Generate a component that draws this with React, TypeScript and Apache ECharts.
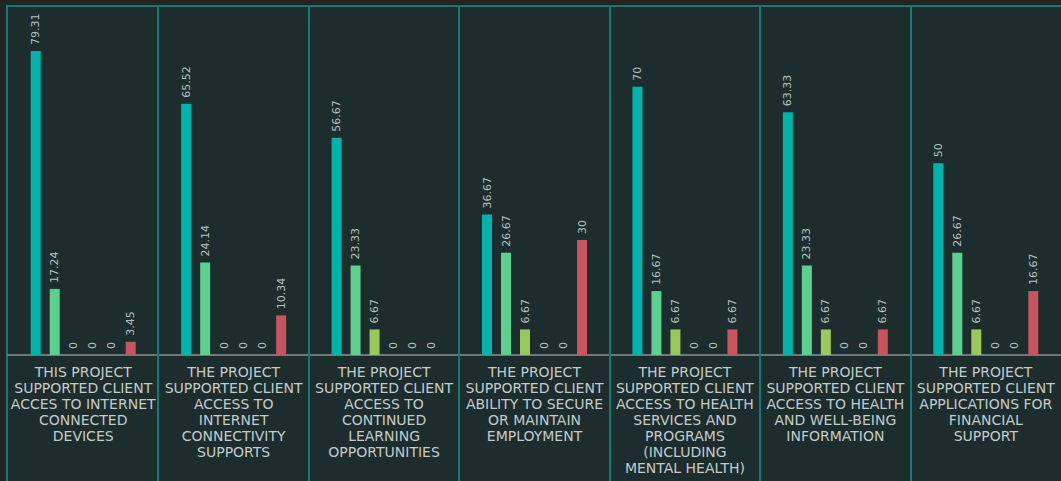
import React, { useEffect, useRef } from "react";
import * as echarts from "echarts";

const categories = [
  "THIS PROJECT\nSUPPORTED CLIENT\nACCES TO INTERNET\nCONNECTED\nDEVICES",
  "THE PROJECT\nSUPPORTED CLIENT\nACCESS TO\nINTERNET\nCONNECTIVITY\nSUPPORTS",
  "THE PROJECT\nSUPPORTED CLIENT\nACCESS TO\nCONTINUED\nLEARNING\nOPPORTUNITIES",
  "THE PROJECT\nSUPPORTED CLIENT\nABILITY TO SECURE\nOR MAINTAIN\nEMPLOYMENT",
  "THE PROJECT\nSUPPORTED CLIENT\nACCESS TO HEALTH\nSERVICES AND\nPROGRAMS\n(INCLUDING\nMENTAL HEALTH)",
  "THE PROJECT\nSUPPORTED CLIENT\nACCESS TO HEALTH\nAND WELL-BEING\nINFORMATION",
  "THE PROJECT\nSUPPORTED CLIENT\nAPPLICATIONS FOR\nFINANCIAL\nSUPPORT",
];

const seriesNames = ["Strongly Agree", "Agree", "Neutral", "Disagree", "Strongly Disagree", "Not Applicable"];
const seriesColors = ["#00b3aa", "#5cd08f", "#98c95a", "#e0a040", "#d07040", "#c8545e"];

const stronglyAgree = [79.31, 65.52, 56.67, 36.67, 70, 63.33, 50];
const agree = [17.24, 24.14, 23.33, 26.67, 16.67, 23.33, 26.67];
const neutral = [0, 0, 6.67, 6.67, 6.67, 6.67, 6.67];
const disagree = [0, 0, 0, 0, 0, 0, 0];
const stronglyDisagree = [0, 0, 0, 0, 0, 0, 0];
const notApplicable = [3.45, 10.34, 0, 30, 6.67, 6.67, 16.67];

const seriesData = [stronglyAgree, agree, neutral, disagree, stronglyDisagree, notApplicable];

const W = 1061;
const H = 481;
const GRID_LEFT = 8;
const GRID_RIGHT = 0;
const GRID_TOP = 10;
const GRID_BOTTOM = 126;
const TEAL = "#0f7d75";

export default function App() {
  const ref = useRef<HTMLDivElement>(null);

  useEffect(() => {
    if (!ref.current) return;
    const chart = echarts.init(ref.current, null, { renderer: "svg" });
    const catW = (W - GRID_LEFT - GRID_RIGHT) / categories.length;
    const dividers: any[] = [];
    for (let i = 1; i < categories.length; i++) {
      const x = Math.round(GRID_LEFT + i * catW);
      dividers.push({
        type: "line",
        z: 50,
        silent: true,
        shape: { x1: x, y1: 5, x2: x, y2: H },
        style: { stroke: TEAL, lineWidth: 2 },
      });
    }
    chart.setOption({
      animation: false,
      backgroundColor: "#232525",
      graphic: [
        {
          type: "rect",
          z: -10,
          silent: true,
          shape: { x: 7, y: 6, width: W, height: H },
          style: { fill: "#1d2d2d", stroke: TEAL, lineWidth: 2 },
        },
        ...dividers,
      ],
      grid: { left: GRID_LEFT, right: GRID_RIGHT, top: GRID_TOP, bottom: GRID_BOTTOM },
      xAxis: {
        type: "category",
        data: categories,
        axisTick: { show: false },
        axisLine: { show: true, lineStyle: { color: "#8a9393", width: 1.5 } },
        axisLabel: {
          interval: 0,
          color: "#c3cbcb",
          fontFamily: "DejaVu Sans",
          fontSize: 14,
          lineHeight: 16,
          margin: 9,
          align: "center",
          verticalAlign: "top",
        },
        splitLine: { show: false },
      },
      yAxis: {
        type: "value",
        min: 0,
        max: 90,
        show: false,
        splitLine: { show: false },
      },
      series: seriesData.map((d, i) => ({
        name: seriesNames[i],
        type: "bar",
        data: d,
        barWidth: 10,
        barGap: "90%",
        itemStyle: { color: seriesColors[i] },
        label: {
          show: true,
          position: "top",
          rotate: 90,
          align: "left",
          verticalAlign: "middle",
          distance: 6,
          color: "#b7c0c0",
          fontFamily: "DejaVu Sans",
          fontSize: 11,
          formatter: (p: any) => String(p.value),
        },
      })),
    });
    return () => chart.dispose();
  }, []);

  return (
    <div
      ref={ref}
      style={{ position: "fixed", left: 0, top: 0, width: W, height: H }}
    />
  );
}
